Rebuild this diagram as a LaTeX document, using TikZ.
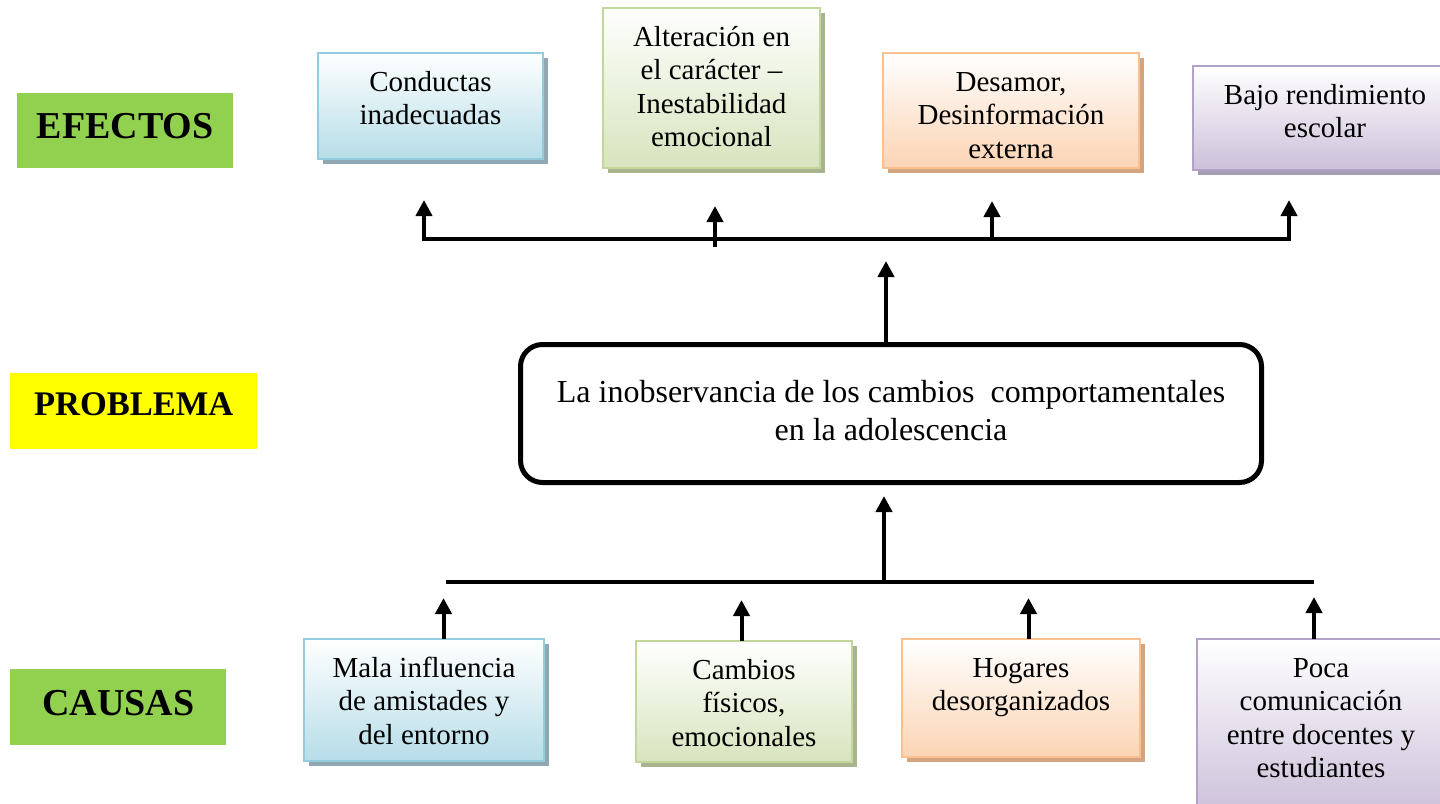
\documentclass[tikz,border=0pt]{standalone}
\usepackage{fontspec}
\setmainfont{Liberation Serif}
\usetikzlibrary{arrows.meta,shadows}
\definecolor{lblgreen}{HTML}{92D050}
\definecolor{lblyellow}{HTML}{FFFF00}
\definecolor{bborder}{HTML}{93CDDD}
\definecolor{bfill}{HTML}{B6DDE8}
\definecolor{bshadow}{HTML}{8FA8B2}
\definecolor{gborder}{HTML}{C3D69B}
\definecolor{gfill}{HTML}{D7E4BD}
\definecolor{gshadow}{HTML}{A7B48D}
\definecolor{oborder}{HTML}{FAC090}
\definecolor{ofill}{HTML}{FBD4B4}
\definecolor{oshadow}{HTML}{D2A47F}
\definecolor{pborder}{HTML}{B3A2C7}
\definecolor{pfill}{HTML}{CCC0DA}
\definecolor{pshadow}{HTML}{A69FB4}
\newcommand\bxt[3]{\begin{minipage}[c][#2][t]{#1}\centering\rule{0pt}{38.5pt}#3\end{minipage}}
\tikzset{
  ebox/.style={inner sep=0pt, outer sep=0pt, anchor=north west, line width=2pt,
    font=\fontsize{29pt}{33.3pt}\selectfont},
  blueb/.style={ebox, draw=bborder, top color=white, bottom color=bfill,
    drop shadow={shadow xshift=5pt, shadow yshift=-5pt, fill=bshadow, opacity=1}},
  greenb/.style={ebox, draw=gborder, top color=white, bottom color=gfill,
    drop shadow={shadow xshift=5pt, shadow yshift=-5pt, fill=gshadow, opacity=1}},
  orangeb/.style={ebox, draw=oborder, top color=white, bottom color=ofill,
    drop shadow={shadow xshift=5pt, shadow yshift=-5pt, fill=oshadow, opacity=1}},
  purpleb/.style={ebox, draw=pborder, top color=white, bottom color=pfill,
    drop shadow={shadow xshift=5pt, shadow yshift=-5pt, fill=pshadow, opacity=1}},
  lbl/.style={inner sep=0pt, anchor=north west, text height=26pt, text depth=10pt,
    font=\fontsize{38pt}{40pt}\selectfont\bfseries},
  probbox/.style={draw, line width=5pt, rounded corners=22pt, fill=white,
    minimum width=741pt, minimum height=138pt, align=center, text depth=7pt,
    font=\fontsize{32pt}{38pt}\selectfont},
  arr/.style={line width=4pt, -{Triangle[width=16pt,length=16pt]}},
  hline/.style={line width=4.5pt},
}
\begin{document}
\begin{tikzpicture}[x=1pt,y=-1pt]
\useasboundingbox (0,0) rectangle (1440,803);
\clip (0,0) rectangle (1440,803);
\fill[white] (0,0) rectangle (1440,803);

% side labels
\node[lbl, fill=lblgreen, minimum width=216pt, minimum height=75pt] (efectos) at (17,93) {EFECTOS};
\node[lbl, fill=lblyellow, minimum width=247pt, minimum height=76pt, text height=23pt, text depth=14pt,
  font=\fontsize{34.5pt}{36pt}\selectfont\bfseries] (problema) at (10,373) {PROBLEMA};
\node[lbl, fill=lblgreen, minimum width=216pt, minimum height=76pt] (causas) at (10,669) {CAUSAS};

% effect boxes
\node[blueb] (e1) at (318,53) {\bxt{225pt}{106pt}{Conductas\\inadecuadas}};
\node[greenb] (e2) at (603,8) {\bxt{217pt}{160pt}{Alteración en\\el carácter –\\Inestabilidad\\emocional}};
\node[orangeb] (e3) at (883,53) {\bxt{256pt}{115pt}{Desamor,\\Desinformación\\externa}};
\node[purpleb] (e4) at (1193,66) {\bxt{264pt}{104pt}{Bajo rendimiento\\escolar}};

% problem
\node[probbox] (prob) at (891,413.5) {La inobservancia de los cambios\ \ comportamentales\\en la adolescencia};

% cause boxes
\node[blueb] (c1) at (304,639) {\bxt{240pt}{122pt}{Mala influencia\\de amistades y\\del entorno}};
\node[greenb] (c2) at (636,641) {\bxt{216pt}{121pt}{Cambios\\físicos,\\emocionales}};
\node[orangeb] (c3) at (902,639) {\bxt{238pt}{118pt}{Hogares\\desorganizados}};
\node[purpleb] (c4) at (1197,639) {\bxt{248pt}{175pt}{Poca\\comunicación\\entre docentes y\\estudiantes}};

% top connectors
\coordinate (tl) at (422,239);
\coordinate (tr) at (1291,239);
\draw[hline] (tl) -- (tr);
\coordinate (e1a) at (424,200); \coordinate (e1s) at (424,241.25);
\coordinate (e2a) at (715,206); \coordinate (e2s) at (715,247);
\coordinate (e3a) at (992,201); \coordinate (e3s) at (992,241.25);
\coordinate (e4a) at (1289,200); \coordinate (e4s) at (1289,241.25);
\draw[arr] (e1s) -- (e1a);
\draw[arr] (e2s) -- (e2a);
\draw[arr] (e3s) -- (e3a);
\draw[arr] (e4s) -- (e4a);
\coordinate (m1) at (886,261);
\draw[arr] (prob.north -| m1) -- (m1);

% bottom connectors
\coordinate (bl) at (446,582);
\coordinate (br) at (1314,582);
\draw[hline] (bl) -- (br);
\coordinate (m2) at (884,496);
\draw[arr] (bl -| m2) -- (m2);
\coordinate (ca1) at (443.5,598);
\coordinate (ca2) at (741.5,600);
\coordinate (ca3) at (1028.5,598);
\coordinate (ca4) at (1314,597);
\draw[arr] (c1.north -| ca1) -- (ca1);
\draw[arr] (c2.north -| ca2) -- (ca2);
\draw[arr] (c3.north -| ca3) -- (ca3);
\draw[arr] (c4.north -| ca4) -- (ca4);
\end{tikzpicture}
\end{document}
